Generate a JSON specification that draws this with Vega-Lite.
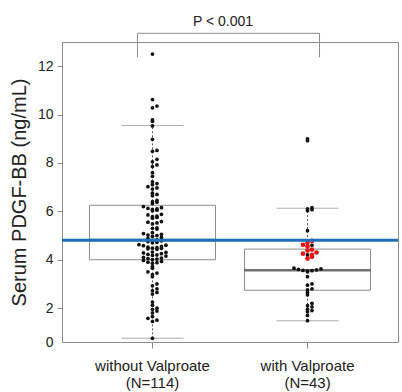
{
  "$schema": "https://vega.github.io/schema/vega-lite/v6.json",
  "width": 336,
  "height": 300,
  "autosize": "none",
  "padding": {"left": 62, "top": 42, "right": 4, "bottom": 50},
  "background": "white",
  "config": {
    "font": "Liberation Sans",
    "view": {"stroke": "#8c8c8c", "strokeWidth": 1},
    "axis": {"grid": false, "domain": false, "tickColor": "#8c8c8c", "labelColor": "#222222", "titleColor": "#222222", "titleFontWeight": "normal"}
  },
  "title": {"text": "P < 0.001", "fontSize": 14, "fontWeight": "normal", "color": "#222222", "frame": "group", "anchor": "middle", "dx": -7, "offset": 4},
  "datasets": {
    "points": [
      {"g": "without Valproate|(N=114)", "v": 12.5, "f": "n"},
      {"g": "without Valproate|(N=114)", "v": 10.62, "f": "n"},
      {"g": "without Valproate|(N=114)", "v": 10.35, "f": "n"},
      {"g": "without Valproate|(N=114)", "v": 10.28, "f": "n"},
      {"g": "without Valproate|(N=114)", "v": 9.78, "f": "n"},
      {"g": "without Valproate|(N=114)", "v": 9.72, "f": "n"},
      {"g": "without Valproate|(N=114)", "v": 9.53, "f": "n"},
      {"g": "without Valproate|(N=114)", "v": 8.98, "f": "n"},
      {"g": "without Valproate|(N=114)", "v": 8.52, "f": "n"},
      {"g": "without Valproate|(N=114)", "v": 8.48, "f": "n"},
      {"g": "without Valproate|(N=114)", "v": 8.15, "f": "n"},
      {"g": "without Valproate|(N=114)", "v": 8.05, "f": "n"},
      {"g": "without Valproate|(N=114)", "v": 7.92, "f": "n"},
      {"g": "without Valproate|(N=114)", "v": 7.85, "f": "n"},
      {"g": "without Valproate|(N=114)", "v": 7.6, "f": "n"},
      {"g": "without Valproate|(N=114)", "v": 7.45, "f": "n"},
      {"g": "without Valproate|(N=114)", "v": 7.22, "f": "n"},
      {"g": "without Valproate|(N=114)", "v": 7.15, "f": "n"},
      {"g": "without Valproate|(N=114)", "v": 7.1, "f": "n"},
      {"g": "without Valproate|(N=114)", "v": 7.02, "f": "n"},
      {"g": "without Valproate|(N=114)", "v": 6.97, "f": "n"},
      {"g": "without Valproate|(N=114)", "v": 6.92, "f": "n"},
      {"g": "without Valproate|(N=114)", "v": 6.75, "f": "n"},
      {"g": "without Valproate|(N=114)", "v": 6.7, "f": "n"},
      {"g": "without Valproate|(N=114)", "v": 6.65, "f": "n"},
      {"g": "without Valproate|(N=114)", "v": 6.45, "f": "n"},
      {"g": "without Valproate|(N=114)", "v": 6.4, "f": "n"},
      {"g": "without Valproate|(N=114)", "v": 6.38, "f": "n"},
      {"g": "without Valproate|(N=114)", "v": 6.32, "f": "n"},
      {"g": "without Valproate|(N=114)", "v": 6.2, "f": "n"},
      {"g": "without Valproate|(N=114)", "v": 6.15, "f": "n"},
      {"g": "without Valproate|(N=114)", "v": 6.12, "f": "n"},
      {"g": "without Valproate|(N=114)", "v": 6.1, "f": "n"},
      {"g": "without Valproate|(N=114)", "v": 6.08, "f": "n"},
      {"g": "without Valproate|(N=114)", "v": 6.05, "f": "n"},
      {"g": "without Valproate|(N=114)", "v": 6.02, "f": "n"},
      {"g": "without Valproate|(N=114)", "v": 5.88, "f": "n"},
      {"g": "without Valproate|(N=114)", "v": 5.85, "f": "n"},
      {"g": "without Valproate|(N=114)", "v": 5.8, "f": "n"},
      {"g": "without Valproate|(N=114)", "v": 5.78, "f": "n"},
      {"g": "without Valproate|(N=114)", "v": 5.75, "f": "n"},
      {"g": "without Valproate|(N=114)", "v": 5.72, "f": "n"},
      {"g": "without Valproate|(N=114)", "v": 5.58, "f": "n"},
      {"g": "without Valproate|(N=114)", "v": 5.55, "f": "n"},
      {"g": "without Valproate|(N=114)", "v": 5.52, "f": "n"},
      {"g": "without Valproate|(N=114)", "v": 5.48, "f": "n"},
      {"g": "without Valproate|(N=114)", "v": 5.32, "f": "n"},
      {"g": "without Valproate|(N=114)", "v": 5.3, "f": "n"},
      {"g": "without Valproate|(N=114)", "v": 5.27, "f": "n"},
      {"g": "without Valproate|(N=114)", "v": 5.12, "f": "n"},
      {"g": "without Valproate|(N=114)", "v": 5.08, "f": "n"},
      {"g": "without Valproate|(N=114)", "v": 5.05, "f": "n"},
      {"g": "without Valproate|(N=114)", "v": 5.02, "f": "n"},
      {"g": "without Valproate|(N=114)", "v": 5.0, "f": "n"},
      {"g": "without Valproate|(N=114)", "v": 4.97, "f": "n"},
      {"g": "without Valproate|(N=114)", "v": 4.92, "f": "n"},
      {"g": "without Valproate|(N=114)", "v": 4.88, "f": "n"},
      {"g": "without Valproate|(N=114)", "v": 4.82, "f": "n"},
      {"g": "without Valproate|(N=114)", "v": 4.8, "f": "n"},
      {"g": "without Valproate|(N=114)", "v": 4.78, "f": "n"},
      {"g": "without Valproate|(N=114)", "v": 4.75, "f": "n"},
      {"g": "without Valproate|(N=114)", "v": 4.72, "f": "n"},
      {"g": "without Valproate|(N=114)", "v": 4.7, "f": "n"},
      {"g": "without Valproate|(N=114)", "v": 4.62, "f": "n"},
      {"g": "without Valproate|(N=114)", "v": 4.6, "f": "n"},
      {"g": "without Valproate|(N=114)", "v": 4.58, "f": "n"},
      {"g": "without Valproate|(N=114)", "v": 4.55, "f": "n"},
      {"g": "without Valproate|(N=114)", "v": 4.52, "f": "n"},
      {"g": "without Valproate|(N=114)", "v": 4.5, "f": "n"},
      {"g": "without Valproate|(N=114)", "v": 4.48, "f": "n"},
      {"g": "without Valproate|(N=114)", "v": 4.47, "f": "n"},
      {"g": "without Valproate|(N=114)", "v": 4.45, "f": "n"},
      {"g": "without Valproate|(N=114)", "v": 4.43, "f": "n"},
      {"g": "without Valproate|(N=114)", "v": 4.32, "f": "n"},
      {"g": "without Valproate|(N=114)", "v": 4.3, "f": "n"},
      {"g": "without Valproate|(N=114)", "v": 4.28, "f": "n"},
      {"g": "without Valproate|(N=114)", "v": 4.25, "f": "n"},
      {"g": "without Valproate|(N=114)", "v": 4.22, "f": "n"},
      {"g": "without Valproate|(N=114)", "v": 4.2, "f": "n"},
      {"g": "without Valproate|(N=114)", "v": 4.18, "f": "n"},
      {"g": "without Valproate|(N=114)", "v": 4.15, "f": "n"},
      {"g": "without Valproate|(N=114)", "v": 4.1, "f": "n"},
      {"g": "without Valproate|(N=114)", "v": 4.07, "f": "n"},
      {"g": "without Valproate|(N=114)", "v": 4.05, "f": "n"},
      {"g": "without Valproate|(N=114)", "v": 4.03, "f": "n"},
      {"g": "without Valproate|(N=114)", "v": 4.0, "f": "n"},
      {"g": "without Valproate|(N=114)", "v": 3.97, "f": "n"},
      {"g": "without Valproate|(N=114)", "v": 3.93, "f": "n"},
      {"g": "without Valproate|(N=114)", "v": 3.9, "f": "n"},
      {"g": "without Valproate|(N=114)", "v": 3.88, "f": "n"},
      {"g": "without Valproate|(N=114)", "v": 3.85, "f": "n"},
      {"g": "without Valproate|(N=114)", "v": 3.72, "f": "n"},
      {"g": "without Valproate|(N=114)", "v": 3.65, "f": "n"},
      {"g": "without Valproate|(N=114)", "v": 3.5, "f": "n"},
      {"g": "without Valproate|(N=114)", "v": 3.45, "f": "n"},
      {"g": "without Valproate|(N=114)", "v": 3.38, "f": "n"},
      {"g": "without Valproate|(N=114)", "v": 3.3, "f": "n"},
      {"g": "without Valproate|(N=114)", "v": 3.0, "f": "n"},
      {"g": "without Valproate|(N=114)", "v": 2.92, "f": "n"},
      {"g": "without Valproate|(N=114)", "v": 2.8, "f": "n"},
      {"g": "without Valproate|(N=114)", "v": 2.72, "f": "n"},
      {"g": "without Valproate|(N=114)", "v": 2.65, "f": "n"},
      {"g": "without Valproate|(N=114)", "v": 2.58, "f": "n"},
      {"g": "without Valproate|(N=114)", "v": 2.25, "f": "n"},
      {"g": "without Valproate|(N=114)", "v": 2.12, "f": "n"},
      {"g": "without Valproate|(N=114)", "v": 2.0, "f": "n"},
      {"g": "without Valproate|(N=114)", "v": 1.95, "f": "n"},
      {"g": "without Valproate|(N=114)", "v": 1.88, "f": "n"},
      {"g": "without Valproate|(N=114)", "v": 1.8, "f": "n"},
      {"g": "without Valproate|(N=114)", "v": 1.65, "f": "n"},
      {"g": "without Valproate|(N=114)", "v": 1.58, "f": "n"},
      {"g": "without Valproate|(N=114)", "v": 1.5, "f": "n"},
      {"g": "without Valproate|(N=114)", "v": 1.45, "f": "n"},
      {"g": "without Valproate|(N=114)", "v": 0.75, "f": "n"},
      {"g": "with Valproate|(N=43)", "v": 9.0, "f": "n"},
      {"g": "with Valproate|(N=43)", "v": 8.92, "f": "n"},
      {"g": "with Valproate|(N=43)", "v": 6.15, "f": "n"},
      {"g": "with Valproate|(N=43)", "v": 6.1, "f": "n"},
      {"g": "with Valproate|(N=43)", "v": 6.07, "f": "n"},
      {"g": "with Valproate|(N=43)", "v": 6.03, "f": "n"},
      {"g": "with Valproate|(N=43)", "v": 5.2, "f": "n"},
      {"g": "with Valproate|(N=43)", "v": 4.6, "f": "n"},
      {"g": "with Valproate|(N=43)", "v": 4.2, "f": "n"},
      {"g": "with Valproate|(N=43)", "v": 3.65, "f": "n"},
      {"g": "with Valproate|(N=43)", "v": 3.62, "f": "n"},
      {"g": "with Valproate|(N=43)", "v": 3.6, "f": "n"},
      {"g": "with Valproate|(N=43)", "v": 3.58, "f": "n"},
      {"g": "with Valproate|(N=43)", "v": 3.56, "f": "n"},
      {"g": "with Valproate|(N=43)", "v": 3.55, "f": "n"},
      {"g": "with Valproate|(N=43)", "v": 3.53, "f": "n"},
      {"g": "with Valproate|(N=43)", "v": 3.5, "f": "n"},
      {"g": "with Valproate|(N=43)", "v": 3.3, "f": "n"},
      {"g": "with Valproate|(N=43)", "v": 3.0, "f": "n"},
      {"g": "with Valproate|(N=43)", "v": 2.95, "f": "n"},
      {"g": "with Valproate|(N=43)", "v": 2.8, "f": "n"},
      {"g": "with Valproate|(N=43)", "v": 2.75, "f": "n"},
      {"g": "with Valproate|(N=43)", "v": 2.65, "f": "n"},
      {"g": "with Valproate|(N=43)", "v": 2.55, "f": "n"},
      {"g": "with Valproate|(N=43)", "v": 2.2, "f": "n"},
      {"g": "with Valproate|(N=43)", "v": 2.1, "f": "n"},
      {"g": "with Valproate|(N=43)", "v": 2.05, "f": "n"},
      {"g": "with Valproate|(N=43)", "v": 1.95, "f": "n"},
      {"g": "with Valproate|(N=43)", "v": 1.9, "f": "n"},
      {"g": "with Valproate|(N=43)", "v": 1.85, "f": "n"},
      {"g": "with Valproate|(N=43)", "v": 1.7, "f": "n"},
      {"g": "with Valproate|(N=43)", "v": 1.48, "f": "n"},
      {"g": "with Valproate|(N=43)", "v": 4.78, "f": "r"},
      {"g": "with Valproate|(N=43)", "v": 4.7, "f": "r"},
      {"g": "with Valproate|(N=43)", "v": 4.62, "f": "r"},
      {"g": "with Valproate|(N=43)", "v": 4.55, "f": "r"},
      {"g": "with Valproate|(N=43)", "v": 4.42, "f": "r"},
      {"g": "with Valproate|(N=43)", "v": 4.38, "f": "r"},
      {"g": "with Valproate|(N=43)", "v": 4.3, "f": "r"},
      {"g": "with Valproate|(N=43)", "v": 4.25, "f": "r"},
      {"g": "with Valproate|(N=43)", "v": 4.2, "f": "r"},
      {"g": "with Valproate|(N=43)", "v": 4.12, "f": "r"},
      {"g": "with Valproate|(N=43)", "v": 4.05, "f": "r"}
    ],
    "boxes": [
      {"g": "without Valproate|(N=114)", "lower": 0.75, "q1": 4.0, "median": 4.82, "q3": 6.25, "upper": 9.55},
      {"g": "with Valproate|(N=43)", "lower": 1.48, "q1": 2.74, "median": 3.57, "q3": 4.44, "upper": 6.13}
    ],
    "one": [{}]
  },
  "resolve": {"scale": {"xOffset": "independent"}},
  "encoding": {
    "x": {
      "field": "g", "type": "nominal", "sort": null,
      "scale": {"type": "band", "domain": ["without Valproate|(N=114)", "with Valproate|(N=43)"], "paddingInner": 0.187, "paddingOuter": 0.177},
      "axis": {"title": null, "labelAngle": 0, "labelExpr": "split(datum.label, '|')", "labelFontSize": 15, "labelLineHeight": 17, "tickSize": 6, "labelPadding": 10}
    }
  },
  "layer": [
    {
      "data": {"name": "boxes"},
      "mark": {"type": "bar", "fill": "white", "stroke": "#8c8c8c", "strokeWidth": 1},
      "encoding": {
        "y": {
          "field": "q1", "type": "quantitative",
          "scale": {"domain": [0.6, 13], "nice": false, "zero": false},
          "axis": {
            "title": "Serum PDGF-BB (ng/mL)", "titleFontSize": 20, "titlePadding": 8,
            "values": [0.6, 2, 4, 6, 8, 10, 12],
            "labelExpr": "datum.value < 1 ? '0' : datum.label",
            "tickColor": {"condition": {"test": "datum.value < 1", "value": "transparent"}, "value": "#8c8c8c"},
            "labelFontSize": 14, "tickSize": 5, "labelPadding": 4
          }
        },
        "y2": {"field": "q3"}
      }
    },
    {
      "data": {"name": "boxes"},
      "mark": {"type": "rule", "color": "#555555", "strokeWidth": 1, "strokeDash": [2, 2]},
      "encoding": {"y": {"field": "q3", "type": "quantitative"}, "y2": {"field": "upper"}}
    },
    {
      "data": {"name": "boxes"},
      "mark": {"type": "rule", "color": "#555555", "strokeWidth": 1, "strokeDash": [2, 2]},
      "encoding": {"y": {"field": "lower", "type": "quantitative"}, "y2": {"field": "q1"}}
    },
    {
      "data": {"name": "boxes"},
      "mark": {"type": "tick", "color": "#8c8c8c", "size": 62, "thickness": 1},
      "encoding": {"y": {"field": "upper", "type": "quantitative"}}
    },
    {
      "data": {"name": "boxes"},
      "mark": {"type": "tick", "color": "#8c8c8c", "size": 62, "thickness": 1},
      "encoding": {"y": {"field": "lower", "type": "quantitative"}}
    },
    {
      "data": {"name": "boxes"},
      "mark": {"type": "tick", "color": "#333333", "size": 126, "thickness": 2.5},
      "encoding": {"y": {"field": "median", "type": "quantitative"}}
    },
    {
      "data": {"name": "points"},
      "transform": [
        {"bin": {"step": 0.16}, "field": "v", "as": "vb"},
        {"window": [{"op": "row_number", "as": "k"}], "groupby": ["g", "vb"], "sort": [{"field": "v", "order": "ascending"}]},
        {"calculate": "(datum.k % 2 == 0 ? 1 : -1) * floor(datum.k / 2)", "as": "off"}
      ],
      "mark": {"type": "circle", "opacity": 1},
      "encoding": {
        "y": {"field": "v", "type": "quantitative"},
        "xOffset": {"field": "off", "type": "quantitative", "scale": {"domain": [-14, 14], "range": [0, 126]}},
        "color": {"field": "f", "type": "nominal", "scale": {"domain": ["n", "r"], "range": ["#111111", "#ee1111"]}, "legend": null},
        "size": {"field": "f", "type": "nominal", "scale": {"domain": ["n", "r"], "range": [14, 22]}, "legend": null},
        "order": {"field": "f"}
      }
    },
    {
      "data": {"name": "one"},
      "mark": {"type": "rule", "color": "#1f6fbf", "strokeWidth": 3},
      "encoding": {"y": {"datum": 4.81}, "x": null}
    },
    {
      "data": {"name": "one"},
      "mark": {"type": "rule", "color": "#8c8c8c", "strokeWidth": 1, "xOffset": -15, "x2Offset": 12},
      "encoding": {"x": {"datum": "without Valproate|(N=114)"}, "x2": {"datum": "with Valproate|(N=43)"}, "y": {"datum": 13.36}}
    },
    {
      "data": {"name": "one"},
      "mark": {"type": "rule", "color": "#8c8c8c", "strokeWidth": 1, "xOffset": -15},
      "encoding": {"x": {"datum": "without Valproate|(N=114)"}, "y": {"datum": 12.37}, "y2": {"datum": 13.36}}
    },
    {
      "data": {"name": "one"},
      "mark": {"type": "rule", "color": "#8c8c8c", "strokeWidth": 1, "xOffset": 12},
      "encoding": {"x": {"datum": "with Valproate|(N=43)"}, "y": {"datum": 12.37}, "y2": {"datum": 13.36}}
    }
  ]
}
